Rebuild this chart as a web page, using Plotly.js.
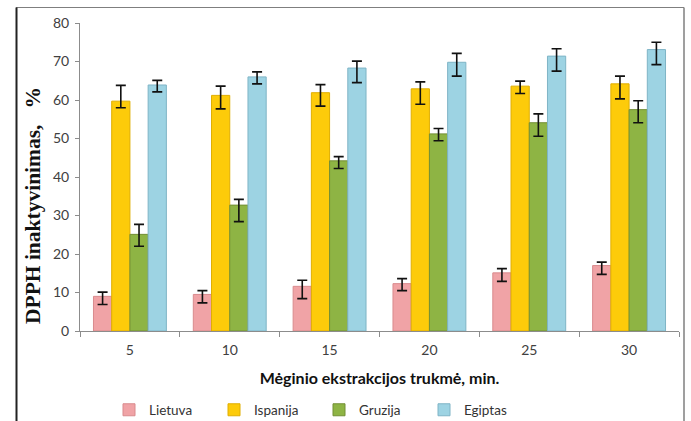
<!DOCTYPE html>
<html>
<head>
<meta charset="utf-8">
<script src="https://cdn.plot.ly/plotly-3.0.1.min.js"></script>
<style>html,body{margin:0;padding:0;background:#fff}#chart{width:691px;height:421px}</style>
</head>
<body>
<div id="chart"></div>
<script>
// Data
const categories = ['5', '10', '15', '20', '25', '30'];
const seriesNames = ['Lietuva', 'Ispanija', 'Gruzija', 'Egiptas'];

const lietuva      = [9.0, 9.5, 11.6, 12.3, 15.1, 17.0];
const lietuvaPlus  = [1.1, 1.0, 1.6, 1.3, 1.1, 0.9];
const lietuvaMinus = [2.1, 2.2, 3.2, 1.8, 2.2, 2.3];

const ispanija      = [59.7, 61.2, 61.9, 62.9, 63.6, 64.2];
const ispanijaPlus  = [4.1, 2.4, 2.1, 1.8, 1.3, 2.0];
const ispanijaMinus = [1.7, 3.5, 3.5, 4.0, 1.9, 3.9];

const gruzija      = [25.1, 32.7, 44.2, 51.2, 54.1, 57.5];
const gruzijaPlus  = [2.6, 1.5, 1.1, 1.4, 2.3, 2.3];
const gruzijaMinus = [3.1, 4.3, 2.0, 1.8, 3.5, 3.4];

const egiptas      = [63.9, 66.0, 68.3, 69.8, 71.4, 73.1];
const egiptasPlus  = [1.2, 1.3, 1.8, 2.3, 1.9, 1.9];
const egiptasMinus = [1.8, 1.8, 3.8, 3.6, 3.9, 3.9];

const yTicks = [0, 10, 20, 30, 40, 50, 60, 70, 80];

// Styles
const fills = ['#F0A3A6', '#FDCB0A', '#8EB444', '#9DD3E3'];
const lines = ['#D98A8D', '#E0AE00', '#738F35', '#7FB4C6'];

const values = [lietuva, ispanija, gruzija, egiptas];
const plus = [lietuvaPlus, ispanijaPlus, gruzijaPlus, egiptasPlus];
const minus = [lietuvaMinus, ispanijaMinus, gruzijaMinus, egiptasMinus];

const traces = seriesNames.map((name, i) => ({
  type: 'bar',
  name: name,
  x: categories,
  y: values[i],
  marker: {color: fills[i], line: {color: lines[i], width: 1}},
  error_y: {
    type: 'data', symmetric: false,
    array: plus[i], arrayminus: minus[i],
    color: '#111', thickness: 1.6, width: 5
  },
  hoverinfo: 'none'
}));

// plot area: x 80..679, y 23..331
const W = 691, H = 421;
const L = 80, R = 679, T = 23, B = 331;
const px = v => (v - L) / (R - L);
const py = v => (B - v) / (B - T);

const layout = {
  width: W, height: H,
  margin: {l: L, r: W - R, t: T, b: H - B, autoexpand: false},
  paper_bgcolor: '#fff', plot_bgcolor: '#fff',
  barmode: 'group', bargap: 0.27, bargroupgap: 0,
  font: {family: 'Lato, "Open Sans", sans-serif', size: 13, color: '#404040'},
  showlegend: true,
  legend: {
    orientation: 'h', xref: 'container', yref: 'container',
    x: 109 / W, xanchor: 'left', y: 1 - 410 / H, yanchor: 'middle',
    font: {family: 'Lato, sans-serif', size: 13.5, color: '#333'},
    itemwidth: 30, entrywidth: 60, entrywidthmode: 'pixels',
    bgcolor: 'rgba(0,0,0,0)', traceorder: 'normal'
  },
  xaxis: {
    type: 'category', automargin: false,
    showline: true, linecolor: '#8C8C8C', linewidth: 1,
    ticks: 'outside', tickson: 'boundaries', ticklen: 5, tickcolor: '#8C8C8C',
    ticklabelstandoff: 6,
    tickfont: {family: 'Lato, sans-serif', size: 14, color: '#404040'},
    showgrid: false, zeroline: false, fixedrange: true,
    title: {text: 'Mėginio ekstrakcijos trukmė, min.', standoff: 16,
            font: {family: 'Lato, sans-serif', size: 16, color: '#111', weight: 'bold'}}
  },
  yaxis: {
    range: [0, 80], tickvals: yTicks, ticktext: yTicks.map(String), automargin: false,
    showline: true, linecolor: '#8C8C8C', linewidth: 1,
    ticks: 'outside', ticklen: 4, tickcolor: '#8C8C8C', ticklabelstandoff: 3,
    tickfont: {family: 'Lato, sans-serif', size: 14, color: '#404040'},
    showgrid: false, zeroline: false, fixedrange: true
  },
  annotations: [{
    xref: 'paper', yref: 'paper', x: px(33), y: py(206),
    xanchor: 'center', yanchor: 'middle', textangle: -90, showarrow: false,
    text: 'DPPH inaktyvinimas,&nbsp;&nbsp; %',
    font: {family: '"Liberation Serif", "Times New Roman", serif', size: 21.5, color: '#111', weight: 'bold'}
  }],
  shapes: [
    {type: 'line', xref: 'paper', yref: 'paper', x0: px(16), x1: px(684), y0: py(7.5), y1: py(7.5),
     line: {color: '#7F7F7F', width: 1}},
    {type: 'line', xref: 'paper', yref: 'paper', x0: px(684), x1: px(684), y0: py(7.5), y1: py(425),
     line: {color: '#7F7F7F', width: 1.5}},
    {type: 'line', xref: 'paper', yref: 'paper', x0: px(16.5), x1: px(16.5), y0: py(7.5), y1: py(425),
     line: {color: '#222', width: 2}}
  ]
};

Plotly.newPlot('chart', traces, layout, {staticPlot: true, displayModeBar: false});
</script>
</body>
</html>
